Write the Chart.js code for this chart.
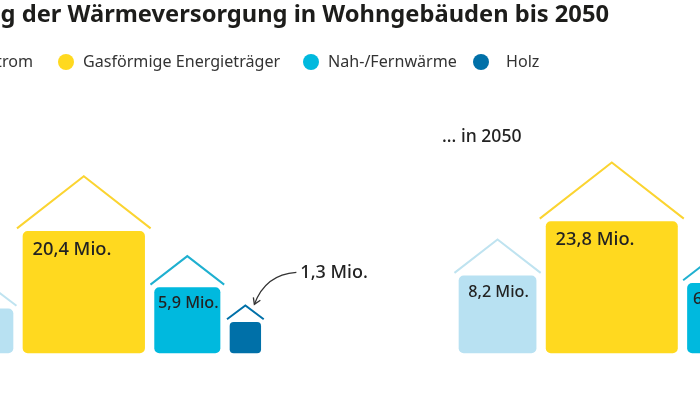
<!DOCTYPE html>
<html lang="de">
<head>
<meta charset="utf-8">
<title>Wärmeversorgung in Wohngebäuden</title>
<script src="https://cdn.jsdelivr.net/npm/chart.js@4"></script>
<style>
  html, body { margin: 0; background: #fff; }
  #page { position: relative; width: 700px; height: 393px; overflow: hidden; font-family: "Noto Sans", sans-serif; color: #333; }
  #chart { position: absolute; left: 0; top: 0; }
  .txt { position: absolute; white-space: nowrap; }
  #title { right: 91px; top: -3px; font-size: 23.7px; font-weight: 700; color: #1d1d1b; }
  #sub { left: 442px; top: 123px; font-size: 17.6px; font-weight: 500; color: #222; }
  .dot { position: absolute; width: 16px; height: 16px; border-radius: 50%; top: 54px; }
  .leg { top: 50px; font-size: 16.1px; }
</style>
</head>
<body>
<div id="page">
  <canvas id="chart" width="700" height="393"></canvas>
  <div class="txt" id="title">Entwicklung der Wärmeversorgung in Wohngebäuden bis 2050</div>
  <div class="txt" id="sub">... in 2050</div>
</div>
<script>
var categories = ['Strom', 'Gasförmige Energieträger', 'Nah-/Fernwärme', 'Holz'];
var valuesToday = [2.7, 20.4, 5.9, 1.3];
var values2050 = [8.2, 23.8, 6.7];
var colors = ['#b8e1f2', '#ffd91f', '#00b9de', '#0070a8'];
var roofColors = ['#bfe3f0', '#fbd431', '#1fb0d0', '#0070a8'];
var legendDotX = [-999, 58, 303, 473];
var legendTextX = [null, 83, 328, 506];

var AREA_PER_MIO = 725;   // bars are squares, the area carries the value
var GAP = 10;
var BASELINE = 353;

function squareSide(v) {
    return Math.sqrt(v * AREA_PER_MIO);
}

function label(v) {
    return v.toFixed(1).replace('.', ',') + ' Mio.';
}

// legend is plain html
var page = document.getElementById('page');
categories.forEach(function (name, i) {
    var t = document.createElement('div');
    t.className = 'txt leg';
    t.textContent = name;
    if (i == 0) {
        t.style.right = (700 - 33) + 'px';
    } else {
        t.style.left = legendTextX[i] + 'px';
        var d = document.createElement('div');
        d.className = 'dot';
        d.style.left = legendDotX[i] + 'px';
        d.style.background = colors[i];
        page.appendChild(d);
    }
    page.appendChild(t);
});

var datasets = [];
var marks = [];

function addGroup(values, startX) {
    var x = startX;
    values.forEach(function (v, i) {
        var side = squareSide(v);
        var center = x + side / 2;
        datasets.push({
            type: 'bar',
            data: [{x: center, y: side}],
            backgroundColor: colors[i],
            barThickness: side,
            grouped: false,
            borderRadius: side > 40 ? 5 : 4,
            borderSkipped: false,
            order: 2
        });
        var half = side / 2 + 2 + side * 0.033;
        var eave = side + 3;
        datasets.push({
            type: 'line',
            data: [
                {x: center - half, y: eave},
                {x: center, y: eave + side * 0.42 + 1},
                {x: center + half, y: eave}
            ],
            borderColor: roofColors[i],
            borderWidth: 2,
            pointRadius: 0,
            tension: 0,
            fill: false,
            order: 1
        });
        marks.push({v: v, x: center, side: side});
        x += side + GAP;
    });
}

addGroup(valuesToday, 13 - squareSide(valuesToday[0]));
addGroup(values2050, 459);

var labelPlugin = {
    id: 'houseLabels',
    afterDatasetsDraw: function (chart) {
        var ctx = chart.ctx;
        var xs = chart.scales.x;
        var ys = chart.scales.y;
        ctx.save();
        ctx.textBaseline = 'middle';
        ctx.fillStyle = '#222';
        marks.forEach(function (m) {
            var top = ys.getPixelForValue(m.side);
            var px = xs.getPixelForValue(m.x);
            if (m.side > 100) {
                ctx.font = '500 18.3px "Noto Sans", sans-serif';
                ctx.textAlign = 'left';
                ctx.fillText(label(m.v), px - m.side / 2 + 9.5, top + 18);
            } else if (m.side > 60) {
                ctx.font = '500 16.2px "Noto Sans", sans-serif';
                ctx.textAlign = 'center';
                ctx.fillText(label(m.v), px + 1, top + 16);
            } else if (m.v == valuesToday[3]) {
                // too small for the house, gets a callout with arrow
                var tipX = px + 9, tipY = top - 18;
                ctx.font = '500 18px "Noto Sans", sans-serif';
                ctx.textAlign = 'left';
                ctx.fillText(label(m.v), px + 55, top - 49);
                ctx.strokeStyle = '#333';
                ctx.lineWidth = 1.3;
                ctx.beginPath();
                ctx.moveTo(px + 51, top - 50);
                ctx.quadraticCurveTo(px + 20, top - 48, tipX, tipY);
                ctx.stroke();
                ctx.beginPath();
                ctx.moveTo(tipX - 1, tipY - 7);
                ctx.lineTo(tipX, tipY);
                ctx.lineTo(tipX + 6, tipY - 4);
                ctx.stroke();
            }
        });
        ctx.restore();
    }
};

new Chart(document.getElementById('chart'), {
    type: 'bar',
    data: {datasets: datasets},
    plugins: [labelPlugin],
    options: {
        responsive: false,
        animation: false,
        layout: {padding: 0},
        plugins: {legend: {display: false}, tooltip: {enabled: false}},
        scales: {
            x: {type: 'linear', min: 0, max: 700, offset: false, display: false},
            y: {type: 'linear', min: BASELINE - 393, max: BASELINE, display: false}
        }
    }
});
</script>
</body>
</html>
